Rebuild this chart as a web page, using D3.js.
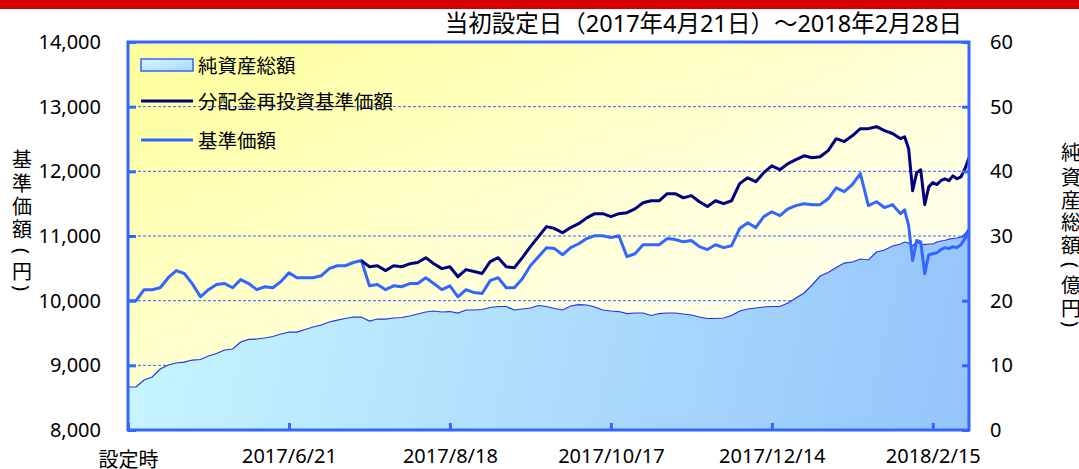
<!DOCTYPE html>
<html>
<head>
<meta charset="utf-8">
<script src="https://cdn.jsdelivr.net/npm/d3@7"></script>
<style>
  html, body { margin: 0; padding: 0; background: #fff; }
  svg { display: block; }
  text { font-family: "Noto Sans", "Noto Sans CJK JP", sans-serif; fill: #000; }
</style>
</head>
<body>
<svg id="chart" width="1079" height="469"></svg>
<script>
// trading-day index of each sample (0 = 設定時)
const days = [0,2,4,6,8,10,12,14,16,18,20,22,24,26,28,30,32,34,36,38,40,42,44,46,48,50,52,54,56,58,
  60,62,64,66,68,70,72,74,76,78,80,82,84,86,88,90,92,94,96,98,100,102,104,106,108,110,112,114,116,118,
  120,122,124,126,128,130,132,134,136,138,140,142,144,146,148,150,152,154,156,158,160,162,164,166,168,170,
  172,174,176,178,180,182,184,186,188,190,192,193,194,195,196,197,198,199,200,201,202,203,204,205,206,207,208,209];

// 基準価額 (円)
const kijun = [10000,10000,10170,10170,10200,10355,10465,10420,10260,10060,
  10170,10250,10265,10200,10325,10265,10170,10215,10200,10295,
  10430,10355,10355,10355,10385,10495,10540,10540,10590,10620,
  10230,10250,10170,10230,10215,10265,10265,10355,10265,10170,
  10230,10060,10170,10125,10110,10310,10355,10200,10200,10340,
  10540,10680,10820,10805,10710,10820,10880,10960,11005,11005,
  10975,11005,10680,10725,10865,10865,10865,10960,10945,10910,
  10930,10835,10790,10865,10820,10850,11115,11205,11130,11300,
  11375,11315,11420,11470,11500,11485,11485,11575,11745,11685,
  11795,11965,11470,11530,11440,11485,11345,
  11405,11160,10620,10930,10910,10415,10710,10725,10740,10790,10820,10805,10835,10820,10865,10960,11100];

// 分配金再投資基準価額 (円)
const saitoshi = [10000,10000,10170,10170,10200,10355,10465,10420,10260,10060,
  10170,10250,10265,10200,10325,10265,10170,10215,10200,10295,
  10430,10355,10355,10355,10385,10495,10540,10540,10590,10620,
  10525,10540,10465,10540,10525,10570,10590,10665,10570,10495,
  10525,10370,10480,10450,10420,10605,10665,10525,10510,10665,
  10835,10990,11145,11115,11050,11130,11190,11280,11345,11345,
  11300,11345,11360,11420,11515,11545,11545,11655,11655,11590,
  11625,11530,11455,11545,11500,11545,11810,11900,11840,11980,
  12085,12025,12120,12180,12240,12210,12225,12320,12505,12460,
  12550,12660,12660,12690,12630,12585,12505,
  12535,12350,11700,11980,12025,11485,11760,11825,11795,11855,11885,11855,11930,11885,11915,12040,12210];

// 純資産総額 (億円)
const netAssets = [6.65,6.65,7.73,8.2,9.43,10.05,10.36,10.5,10.82,10.9,
  11.44,11.83,12.37,12.52,13.6,14.0,14.07,14.23,14.46,14.84,
  15.15,15.15,15.54,15.93,16.24,16.7,17.0,17.24,17.47,17.47,
  16.85,17.16,17.16,17.32,17.4,17.63,17.94,18.25,18.4,18.25,
  18.32,18.09,18.56,18.56,18.63,18.94,19.1,19.1,18.56,18.71,
  18.87,19.25,19.1,18.79,18.56,19.17,19.4,19.33,19.02,18.56,
  18.4,18.32,18.01,18.09,18.09,17.71,18.01,18.09,18.09,17.94,
  17.78,17.47,17.24,17.24,17.32,17.71,18.4,18.71,18.87,19.02,
  19.1,19.1,19.64,20.41,21.18,22.42,23.81,24.35,25.13,25.82,
  25.98,26.44,26.29,27.52,27.83,28.45,28.76,
  29.07,28.92,28.45,29.07,28.76,28.68,28.76,28.76,29.07,29.23,29.3,29.53,29.61,29.69,29.84,30.31,31.24];

const tickDays = [0, 40, 80, 120, 160, 200];
const tickLabels = ['設定時', '2017/6/21', '2017/8/18', '2017/10/17', '2017/12/14', '2018/2/15'];
const leftTicks = [8000, 9000, 10000, 11000, 12000, 13000, 14000];
const rightTicks = [0, 10, 20, 30, 40, 50, 60];
const title = '当初設定日（2017年4月21日）～2018年2月28日';
const leftLabel = ['基', '準', '価', '額', '(', '円', ')'];
const rightLabel = ['純', '資', '産', '総', '額', '(', '億', '円', ')'];

const svg = d3.select('#chart');
const box = {left: 128, right: 969, top: 42, bottom: 430};

const x = d3.scaleLinear().domain([0, 209]).range([box.left, box.right]);
const yL = d3.scaleLinear().domain([8000, 14000]).range([box.bottom, box.top]);
const yR = d3.scaleLinear().domain([0, 60]).range([box.bottom, box.top]);

const defs = svg.append('defs');
const bg = defs.append('linearGradient').attr('id', 'bg')
    .attr('x1', 0).attr('y1', 0).attr('x2', 1).attr('y2', 1);
bg.append('stop').attr('offset', 0).attr('stop-color', '#ffff99');
bg.append('stop').attr('offset', 0.5).attr('stop-color', '#ffffd6');
bg.append('stop').attr('offset', 1).attr('stop-color', '#ffffff');

const af = defs.append('linearGradient').attr('id', 'areafill')
    .attr('gradientUnits', 'userSpaceOnUse')
    .attr('x1', box.left).attr('y1', 250).attr('x2', box.right).attr('y2', box.bottom);
af.append('stop').attr('offset', 0).attr('stop-color', '#c8f6ff');
af.append('stop').attr('offset', 1).attr('stop-color', '#94c4fb');

const lg = defs.append('linearGradient').attr('id', 'legfill')
    .attr('x1', 0).attr('y1', 0).attr('x2', 1).attr('y2', 1);
lg.append('stop').attr('offset', 0).attr('stop-color', '#d8f8ff');
lg.append('stop').attr('offset', 1).attr('stop-color', '#a8d4ff');

defs.append('clipPath').attr('id', 'clip')
  .append('rect').attr('x', box.left).attr('y', box.top)
    .attr('width', box.right - box.left).attr('height', box.bottom - box.top);

// red band on top
svg.append('rect').attr('x', 0).attr('y', 0).attr('width', 1079).attr('height', 9).attr('fill', '#d40000');

// plot background
svg.append('rect').attr('x', box.left).attr('y', box.top)
    .attr('width', box.right - box.left).attr('height', box.bottom - box.top)
    .attr('fill', 'url(#bg)');

// dashed grid
svg.append('g').selectAll('line')
    .data(leftTicks.slice(1, -1))
    .enter()
  .append('line')
    .attr('x1', box.left).attr('x2', box.right)
    .attr('y1', (d) => yL(d)).attr('y2', (d) => yL(d))
    .attr('stroke', '#3a5cff').attr('stroke-width', 1).attr('stroke-dasharray', '3,2');

const series = days.map((d, i) => ({day: d, kijun: kijun[i], saitoshi: saitoshi[i], assets: netAssets[i]}));

const plot = svg.append('g').attr('clip-path', 'url(#clip)');

plot.append('path')
    .datum(series)
    .attr('fill', 'url(#areafill)')
    .attr('d', d3.area().x((d) => x(d.day)).y0(yR(0)).y1((d) => yR(d.assets)));

plot.append('path')
    .datum(series)
    .attr('fill', 'none').attr('stroke', '#2233e8').attr('stroke-width', 1.2)
    .attr('d', d3.line().x((d) => x(d.day)).y((d) => yR(d.assets)));

plot.append('path')
    .datum(series)
    .attr('fill', 'none').attr('stroke', '#3366ff').attr('stroke-width', 3)
    .attr('stroke-linejoin', 'round')
    .attr('d', d3.line().x((d) => x(d.day)).y((d) => yL(d.kijun)));

plot.append('path')
    .datum(series.filter((d) => d.day >= 58))
    .attr('fill', 'none').attr('stroke', '#000080').attr('stroke-width', 3)
    .attr('stroke-linejoin', 'round')
    .attr('d', d3.line().x((d) => x(d.day)).y((d) => yL(d.saitoshi)));

// frame
svg.append('rect').attr('x', box.left).attr('y', box.top)
    .attr('width', box.right - box.left).attr('height', box.bottom - box.top)
    .attr('fill', 'none').attr('stroke', '#3366ff').attr('stroke-width', 3);

// axes
const gl = svg.append('g').attr('transform', 'translate(' + box.left + ',0)')
    .call(d3.axisLeft(yL).tickValues(leftTicks).tickFormat(d3.format(',')).tickSize(-8).tickPadding(27));
const gr = svg.append('g').attr('transform', 'translate(' + box.right + ',0)')
    .call(d3.axisRight(yR).tickValues(rightTicks).tickSize(-7).tickPadding(21));
const gb = svg.append('g').attr('transform', 'translate(0,' + box.bottom + ')')
    .call(d3.axisBottom(x).tickValues(tickDays).tickFormat((d, i) => tickLabels[i]).tickSize(-7));

[gl, gr, gb].forEach((g) => {
    g.select('.domain').remove();
    g.selectAll('line').attr('stroke', '#3366ff').attr('stroke-width', 3);
    g.selectAll('text').style('font-size', '20px').attr('fill', '#000');
});
gb.selectAll('text').attr('y', 33).attr('dy', 0);
gb.selectAll('text').filter((d) => d === 0).attr('y', 37);

// title
svg.append('text')
    .attr('x', 962).attr('y', 32)
    .attr('text-anchor', 'end')
    .style('font-size', '23.5px')
    .text(title);

// vertical axis titles, one character per row; brackets turned a quarter
const drawVertical = function drawVertical(chars, cx, ys) {
    svg.append('g').selectAll('text')
        .data(chars)
        .enter()
      .append('text')
        .attr('x', cx).attr('y', (d, i) => ys[i])
        .attr('text-anchor', 'middle').attr('dominant-baseline', 'central')
        .attr('transform', (d, i) => (d === '(' || d === ')') ? 'rotate(90,' + cx + ',' + ys[i] + ')' : null)
        .style('font-size', '20px')
        .text((d) => d);
};
drawVertical(leftLabel, 22, [159, 183, 206, 229, 251, 271, 288]);
drawVertical(rightLabel, 1071, [152, 177, 200, 222, 245, 265, 285, 308, 324]);

// legend
const legend = svg.append('g');
legend.append('rect').attr('x', 141).attr('y', 59).attr('width', 52).attr('height', 12)
    .attr('fill', 'url(#legfill)').attr('stroke', '#3366ff').attr('stroke-width', 1.5);
legend.append('line').attr('x1', 141).attr('x2', 193).attr('y1', 101).attr('y2', 101)
    .attr('stroke', '#000080').attr('stroke-width', 3);
legend.append('line').attr('x1', 141).attr('x2', 193).attr('y1', 140).attr('y2', 140)
    .attr('stroke', '#3366ff').attr('stroke-width', 3);
legend.selectAll('text.leg')
    .data([['純資産総額', 65], ['分配金再投資基準価額', 101], ['基準価額', 140]])
    .enter()
  .append('text')
    .attr('class', 'leg')
    .attr('x', 198).attr('y', (d) => d[1])
    .attr('dominant-baseline', 'central')
    .style('font-size', '19.5px')
    .text((d) => d[0]);
</script>
</body>
</html>
